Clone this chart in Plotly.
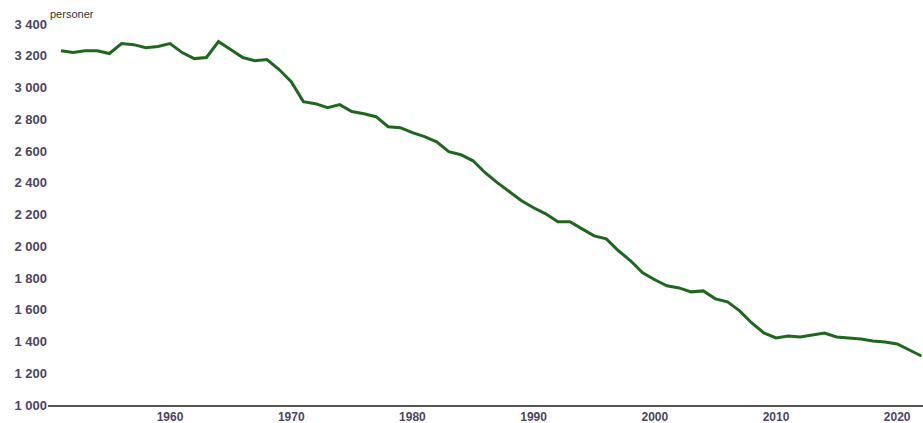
"""Befolkning over tid - linjediagram (personer)."""
import plotly.graph_objects as go

years = list(range(1951, 2023))
persons = [
    3233, 3221, 3233, 3233, 3215, 3278, 3271, 3252, 3259, 3278,  # 1951-1960
    3221, 3183, 3190, 3290, 3240, 3190, 3170, 3177, 3114, 3038,  # 1961-1970
    2912, 2899, 2874, 2893, 2849, 2836, 2817, 2754, 2748, 2716,  # 1971-1980
    2691, 2659, 2596, 2577, 2539, 2464, 2401, 2344, 2287, 2243,  # 1981-1990
    2205, 2155, 2155, 2110, 2066, 2047, 1972, 1909, 1833, 1789,  # 1991-2000
    1751, 1738, 1713, 1719, 1669, 1650, 1593, 1517, 1454, 1423,  # 2001-2010
    1435, 1429, 1442, 1454, 1429, 1423, 1416, 1404, 1397, 1385,  # 2011-2020
    1347, 1309,                                                  # 2021-2022
]

y_ticks = [1000, 1200, 1400, 1600, 1800, 2000, 2200, 2400, 2600, 2800, 3000, 3200, 3400]
y_labels = ["1 000", "1 200", "1 400", "1 600", "1 800", "2 000", "2 200",
            "2 400", "2 600", "2 800", "3 000", "3 200", "3 400"]
x_ticks = [1960, 1970, 1980, 1990, 2000, 2010, 2020]

LABEL = "#4d4560"
FONT = "Liberation Sans, Arial, sans-serif"

fig = go.Figure()
fig.add_trace(go.Scatter(x=years, y=persons, mode="lines",
                         line=dict(color="#1f661f", width=3),
                         hoverinfo="skip", showlegend=False))

fig.update_layout(
    width=923, height=423,
    margin=dict(l=48, r=0, t=21, b=18),
    paper_bgcolor="white", plot_bgcolor="white",
    font=dict(family=FONT, size=13, color=LABEL),
    annotations=[dict(text="personer", xref="paper", yref="paper",
                      x=0, y=1, xanchor="left", yanchor="bottom",
                      showarrow=False, yshift=-1,
                      font=dict(family=FONT, size=11, color="#333333"))],
)
fig.update_xaxes(range=[1949.93, 2022.13], tickvals=x_ticks, automargin=False,
                 showgrid=False, zeroline=False, showline=True,
                 linecolor="#555555", linewidth=1.5, ticks="",
                 tickfont=dict(family=FONT, size=12, color=LABEL, weight="bold"))
fig.update_yaxes(range=[1000, 3420], tickvals=y_ticks, ticktext=y_labels,
                 automargin=False, showgrid=False, zeroline=False,
                 showline=False, ticks="",
                 tickfont=dict(family=FONT, size=13, color=LABEL, weight="bold"))

# the page body has a default 8px margin; drop it so the chart fills the window
fig.write_html("out.html", config={"displayModeBar": False},
               post_script="document.body.style.margin='0';"
                           "document.body.style.overflow='hidden';")
